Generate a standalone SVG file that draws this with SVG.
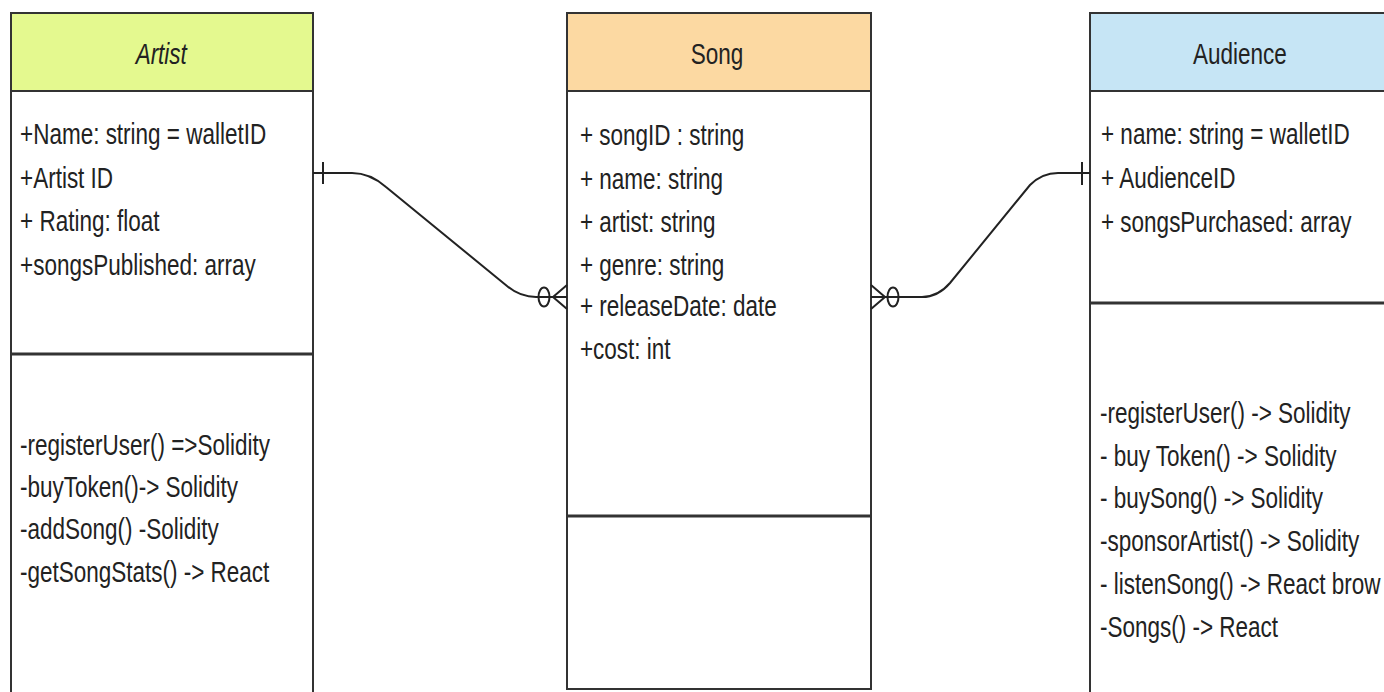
<svg xmlns="http://www.w3.org/2000/svg" width="1384" height="692" viewBox="0 0 1384 692">
<style>
.box{fill:#ffffff;stroke:#333333;stroke-width:2}
.hdr{stroke:#333333;stroke-width:2}
.div{stroke:#333333;stroke-width:3}
.t{font-family:"Liberation Sans",Arial,sans-serif;font-size:30px;fill:#222222}
.ttl{text-anchor:middle}
.edge{fill:none;stroke:#222222;stroke-width:2}
</style>
<rect width="1384" height="692" fill="#ffffff"/>
<g id="artist">
<rect class="box" x="11" y="13" width="302" height="700"/>
<rect class="hdr" x="11" y="13" width="302" height="78" fill="#e4f98f"/>
<line class="div" x1="11" y1="354" x2="313" y2="354"/>
<g transform="scale(0.75,1)">
<text class="t ttl" x="215" y="64" font-style="italic">Artist</text>
<text class="t" x="26.7" y="144">+Name: string = walletID</text>
<text class="t" x="26.7" y="188">+Artist ID</text>
<text class="t" x="26.7" y="231">+ Rating: float</text>
<text class="t" x="26.7" y="275">+songsPublished: array</text>
<text class="t" x="26.7" y="455">-registerUser() =&gt;Solidity</text>
<text class="t" x="26.7" y="497">-buyToken()-&gt; Solidity</text>
<text class="t" x="26.7" y="539">-addSong() -Solidity</text>
<text class="t" x="26.7" y="582">-getSongStats() -&gt; React</text>
</g>
</g>
<g id="song">
<rect class="box" x="567" y="13" width="304" height="676"/>
<rect class="hdr" x="567" y="13" width="304" height="78" fill="#fcd9a2"/>
<line class="div" x1="567" y1="516" x2="871" y2="516"/>
<g transform="scale(0.75,1)">
<text class="t ttl" x="956" y="64">Song</text>
<text class="t" x="773.3" y="145">+ songID : string</text>
<text class="t" x="773.3" y="189">+ name: string</text>
<text class="t" x="773.3" y="232">+ artist: string</text>
<text class="t" x="773.3" y="275">+ genre: string</text>
<text class="t" x="773.3" y="316">+ releaseDate: date</text>
<text class="t" x="773.3" y="359">+cost: int</text>
</g>
</g>
<g id="audience">
<rect class="box" x="1090" y="13" width="320" height="700"/>
<rect class="hdr" x="1090" y="13" width="320" height="78" fill="#c6e5f5"/>
<line class="div" x1="1090" y1="303" x2="1400" y2="303"/>
<g transform="scale(0.75,1)">
<text class="t ttl" x="1653.3" y="64">Audience</text>
<text class="t" x="1468" y="144">+ name: string = walletID</text>
<text class="t" x="1468" y="188">+ AudienceID</text>
<text class="t" x="1468" y="232">+ songsPurchased: array</text>
<text class="t" x="1466.7" y="423">-registerUser() -&gt; Solidity</text>
<text class="t" x="1466.7" y="466">- buy Token() -&gt; Solidity</text>
<text class="t" x="1466.7" y="508">- buySong() -&gt; Solidity</text>
<text class="t" x="1466.7" y="551">-sponsorArtist() -&gt; Solidity</text>
<text class="t" x="1466.7" y="594">- listenSong() -&gt; React brow</text>
<text class="t" x="1466.7" y="637">-Songs() -&gt; React</text>
</g>
</g>
<g id="connectors">
<path class="edge" d="M313,173 H352 Q370,173 386,187 L507,286 Q520,297 536,297 H567"/>
<line class="edge" x1="323" y1="162" x2="323" y2="184"/>
<ellipse class="edge" cx="544" cy="297" rx="5.5" ry="9.5"/>
<path class="edge" d="M567,285 L553,297 L567,309 M553,297 H567"/>
<path class="edge" d="M871,297 H922 Q938,297 950,283 L1030,185 Q1042,173 1058,173 H1090"/>
<line class="edge" x1="1082" y1="162" x2="1082" y2="185"/>
<ellipse class="edge" cx="893" cy="297" rx="5.5" ry="9.5"/>
<path class="edge" d="M871,285 L885,297 L871,309 M871,297 H885"/>
</g>
</svg>
